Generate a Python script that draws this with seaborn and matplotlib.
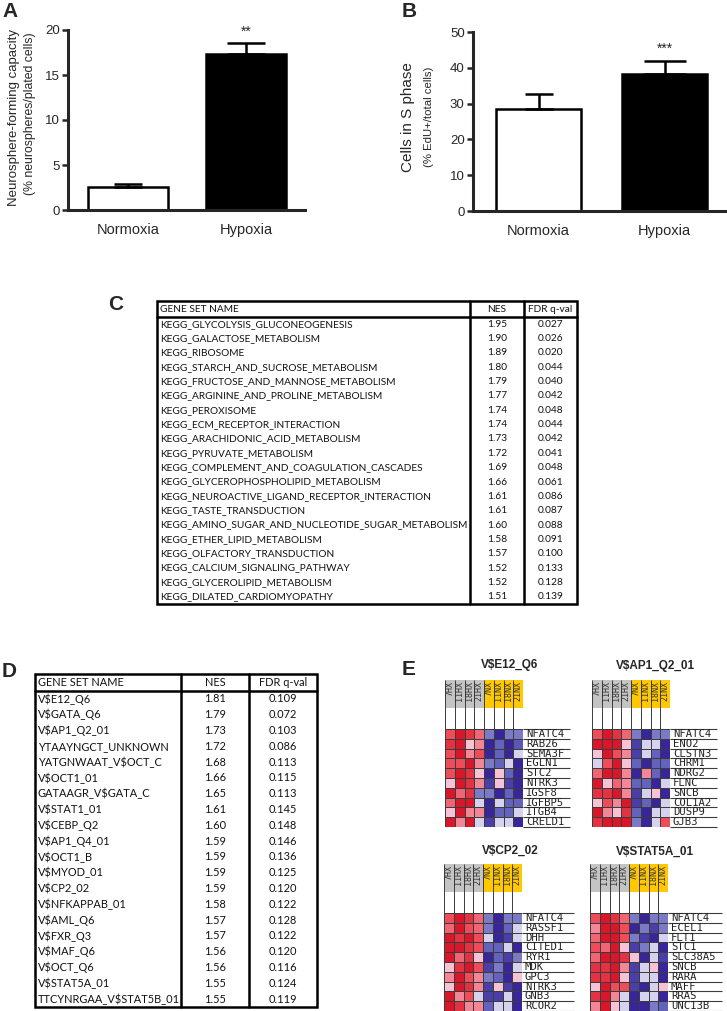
import numpy as np
import pandas as pd
import matplotlib
matplotlib.use("Agg")
import matplotlib.pyplot as plt
from matplotlib.patches import Rectangle
from matplotlib.colors import LinearSegmentedColormap
import seaborn as sns

# Panel A / B : bar data (mean and upper error)
conditions = ["Normoxia", "Hypoxia"]
sphere_mean = [2.6, 17.3]
sphere_err = [0.25, 1.3]
sphase_mean = [28.5, 38.3]
sphase_err = [4.3, 3.7]

# Panel C : KEGG gene sets
kegg_names = ["KEGG_GLYCOLYSIS_GLUCONEOGENESIS", "KEGG_GALACTOSE_METABOLISM", "KEGG_RIBOSOME",
              "KEGG_STARCH_AND_SUCROSE_METABOLISM", "KEGG_FRUCTOSE_AND_MANNOSE_METABOLISM",
              "KEGG_ARGININE_AND_PROLINE_METABOLISM", "KEGG_PEROXISOME", "KEGG_ECM_RECEPTOR_INTERACTION",
              "KEGG_ARACHIDONIC_ACID_METABOLISM", "KEGG_PYRUVATE_METABOLISM",
              "KEGG_COMPLEMENT_AND_COAGULATION_CASCADES", "KEGG_GLYCEROPHOSPHOLIPID_METABOLISM",
              "KEGG_NEUROACTIVE_LIGAND_RECEPTOR_INTERACTION", "KEGG_TASTE_TRANSDUCTION",
              "KEGG_AMINO_SUGAR_AND_NUCLEOTIDE_SUGAR_METABOLISM", "KEGG_ETHER_LIPID_METABOLISM",
              "KEGG_OLFACTORY_TRANSDUCTION", "KEGG_CALCIUM_SIGNALING_PATHWAY",
              "KEGG_GLYCEROLIPID_METABOLISM", "KEGG_DILATED_CARDIOMYOPATHY"]
kegg_nes = ["1.95", "1.90", "1.89", "1.80", "1.79", "1.77", "1.74", "1.74", "1.73", "1.72",
            "1.69", "1.66", "1.61", "1.61", "1.60", "1.58", "1.57", "1.52", "1.52", "1.51"]
kegg_fdr = ["0.027", "0.026", "0.020", "0.044", "0.040", "0.042", "0.048", "0.044", "0.042", "0.041",
            "0.048", "0.061", "0.086", "0.087", "0.088", "0.091", "0.100", "0.133", "0.128", "0.139"]

# Panel D : transcription factor motif gene sets
tf_names = ["V$E12_Q6", "V$GATA_Q6", "V$AP1_Q2_01", "YTAAYNGCT_UNKNOWN", "YATGNWAAT_V$OCT_C",
            "V$OCT1_01", "GATAAGR_V$GATA_C", "V$STAT1_01", "V$CEBP_Q2", "V$AP1_Q4_01",
            "V$OCT1_B", "V$MYOD_01", "V$CP2_02", "V$NFKAPPAB_01", "V$AML_Q6",
            "V$FXR_Q3", "V$MAF_Q6", "V$OCT_Q6", "V$STAT5A_01", "TTCYNRGAA_V$STAT5B_01"]
tf_nes = ["1.81", "1.79", "1.73", "1.72", "1.68", "1.66", "1.65", "1.61", "1.60", "1.59",
          "1.59", "1.59", "1.59", "1.58", "1.57", "1.57", "1.56", "1.56", "1.55", "1.55"]
tf_fdr = ["0.109", "0.072", "0.103", "0.086", "0.113", "0.115", "0.113", "0.145", "0.148", "0.146",
          "0.136", "0.125", "0.120", "0.122", "0.128", "0.122", "0.120", "0.116", "0.124", "0.119"]

# Panel E : leading edge heatmaps
samples = ["7HX", "11HX", "18HX", "21HX", "7NX", "11NX", "18NX", "21NX"]

e12_genes = ["NFATC4", "RAB26", "SEMA3F", "EGLN1", "STC2", "NTRK3", "IGSF8", "IGFBP5", "ITGB4", "CRELD1"]
e12_vals = [[2, 3, 2.5, 1.8, -1.8, -3, -1.8, -1.8],
            [2.5, 3, 1, 1.5, -3, -2, -3, -2.2],
            [2, 3, 1.5, 2, -3, -2, -3, -1],
            [2, 2, 3, 1.5, -1.8, -2, -1, -3],
            [2, 3, 2.5, 1, -3, 1, -2, -3],
            [1, 3, 2.5, 1.5, -2.6, 1, -2.6, -3],
            [3, 1.8, 2.5, -1.8, -1.8, -3, -2, -3],
            [1.8, 3, 3, -1, -3, -1, -2, -2],
            [1, 3, 1.5, 1.5, -3, -2, -2, -1],
            [3, 1.5, 3, -1, -2.6, -1, -1, -3]]

ap1_genes = ["NFATC4", "ENO2", "CLSTN3", "CHRM1", "NDRG2", "FLNC", "SNCB", "COL1A2", "DUSP9", "GJB3"]
ap1_vals = [[2, 3, 2.5, 1.8, -1.8, -3, -1.8, -1.8],
            [3, 3, 3, 1, -2.6, -1, -1, -3],
            [1, 3, 2, 1.5, -2.6, -1, -2, -3],
            [-1, 2, 3, 1, -2, -3, -2, -2],
            [1.8, 3, 3, 1.5, -3, 1.5, -2, -3],
            [3, 1, 1.8, 1.5, -2, -2, -3, -1],
            [2.5, 2.5, 3, 1.5, -2.6, -1, 1, -3],
            [1, 2, 1.5, 3, -2.6, -2, -3, -1],
            [3, 1.5, 1, 2.5, -2, -3, -1, -1],
            [2.5, 3, 3, 3, -1.8, -3, -1, 2]]

cp2_genes = ["NFATC4", "RASSF1", "DHH", "CITED1", "RYR1", "MDK", "GPC3", "NTRK3", "GNB3", "RCOR2"]
cp2_vals = [[2, 3, 2.5, 1.8, -1.8, -3, -1.8, -1.8],
            [1.8, 3, 2, 1.8, -1.8, -3, -2, -1],
            [3, 2.5, 3, 2, -1, -3, -2.6, -1],
            [3, 3, 2.5, 2, -2, -2, -1, -3],
            [3, 1.8, 2.5, 1, -3, -2, -2.6, -1.8],
            [1, 2.5, 3, 2, -2.6, -1.8, -3, -1],
            [1.5, 3, 2, 1.5, -1.8, -2, -3, 1],
            [1, 3, 2.5, 1.5, -2.6, 1, -2.6, -3],
            [3, 1.5, 2, -1, -2.6, -2.6, -1, -3],
            [3, 2.5, 1.5, 1.5, -2, -1, -1, -3]]

stat5a_genes = ["NFATC4", "ECEL1", "FLT1", "STC1", "SLC38A5", "SNCB", "RARA", "MAFF", "RRAS", "UNC13B"]
stat5a_vals = [[2, 3, 2.5, 1.8, -1.8, -3, -1.8, -1.8],
               [1.5, 3, 3, 2, -3, -1.8, -2.6, -1.8],
               [1.8, 3, 3, 2, -1.8, -2.6, -3, -1],
               [2, 1.8, 3, 1, -2.6, -1.8, -1, -3],
               [1.8, 3, 3, 2.5, 1, -3, -1, -2.6],
               [2.5, 2.5, 3, 1.5, -2.6, -1, 1, -3],
               [2.5, 2.5, 3, 1, -2.6, -1, -1, -3],
               [1, 3, 2, 2, -2.6, -3, -1, 1],
               [2.5, 3, 1.5, -1, -3, -1, -1, -3],
               [1.5, 3, 1, -1, -3, -3, -1.8, -2]]

sns.set_style("ticks")
plt.rcParams["font.family"] = ["Liberation Sans", "DejaVu Sans"]
plt.rcParams["text.parse_math"] = False

W, H = 727, 1011
fig = plt.figure(figsize=(W / 100, H / 100), dpi=100)


def px_rect(x0, y0, x1, y1):
    # pixel box (top-left origin) -> figure fraction rect
    return [x0 / W, 1 - y1 / H, (x1 - x0) / W, (y1 - y0) / H]


def fig_text(x, y, s, **kw):
    fig.text(x / W, 1 - y / H, s, **kw)


def bar_panel(rect, means, errs, caps, ymax, yticks, xlim, stars, star_y):
    ax = fig.add_axes(rect)
    df = pd.DataFrame({"condition": conditions, "value": means})
    sns.barplot(data=df, x="condition", y="value", hue="condition", palette=["white", "black"],
                width=0.68, edgecolor="black", linewidth=1.8, errorbar=None, legend=False, ax=ax)
    for i in range(len(means)):
        ax.errorbar(i, means[i], yerr=[[0], [errs[i]]], fmt="none", ecolor="black",
                    elinewidth=1.8, capsize=caps[i], capthick=1.8, zorder=5)
    ax.text(1, star_y, stars, ha="center", va="bottom", fontsize=10)
    ax.set_ylim(0, ymax)
    ax.set_xlim(*xlim)
    ax.set_yticks(yticks)
    ax.set_xlabel("")
    ax.set_ylabel("")
    sns.despine(ax=ax)
    for side in ["left", "bottom"]:
        ax.spines[side].set_linewidth(2.2)
    ax.tick_params(axis="y", width=1.8, length=4, labelsize=9.5, pad=2)
    ax.tick_params(axis="x", length=0, labelsize=10.5, pad=9)
    return ax


# Panel A
bar_panel(px_rect(68, 30, 305, 210), sphere_mean, sphere_err, [10, 14], 20,
          [0, 5, 10, 15, 20], (-0.508, 1.5), "**", 19.0)
fig_text(14, 118, "Neurosphere-forming capacity", rotation=90, ha="center", va="center", fontsize=9.5)
fig_text(30, 114, "(% neurospheres/plated cells)", rotation=90, ha="center", va="center", fontsize=8.8)

# Panel B
bar_panel(px_rect(473, 32, 727, 211), sphase_mean, sphase_err, [10, 15], 50,
          [0, 10, 20, 30, 40, 50], (-0.52, 1.496), "***", 43.3)
fig_text(408, 117, "Cells in S phase", rotation=90, ha="center", va="center", fontsize=11)
fig_text(429, 117, "(% EdU+/total cells)", rotation=90, ha="center", va="center", fontsize=8.2)


def draw_table(rect, w, h, col_x, header_h, names, nes, fdr, fs):
    ax = fig.add_axes(rect)
    ax.set_xlim(0, w)
    ax.set_ylim(h, 0)
    ax.axis("off")
    row_h = (h - header_h) / len(names)
    ax.add_patch(Rectangle((0, 0), w, h, fill=False, lw=1.8, edgecolor="black", clip_on=False))
    ax.plot([0, w], [header_h, header_h], color="black", lw=1.8, clip_on=False)
    for c in col_x:
        ax.plot([c, c], [0, h], color="black", lw=1.8, clip_on=False)
    font = dict(fontsize=fs, family="Lato", va="center", color="#111111")
    ax.text(3, header_h / 2 + 0.5, "GENE SET NAME", ha="left", **font)
    ax.text((col_x[0] + col_x[1]) / 2, header_h / 2 + 0.5, "NES", ha="center", **font)
    ax.text((col_x[1] + w) / 2, header_h / 2 + 0.5, "FDR q-val", ha="center", **font)
    for i in range(len(names)):
        y = header_h + (i + 0.5) * row_h
        ax.text(3, y, names[i], ha="left", **font)
        ax.text((col_x[0] + col_x[1]) / 2, y, nes[i], ha="center", **font)
        ax.text((col_x[1] + w) / 2, y, fdr[i], ha="center", **font)


# Panel C
draw_table(px_rect(157, 301, 577, 604), 420, 303, [313, 367], 16, kegg_names, kegg_nes, kegg_fdr, 7.3)
# Panel D
draw_table(px_rect(35, 674, 317, 1007), 282, 333, [146, 214], 17, tf_names, tf_nes, tf_fdr, 7.9)

# GSEA style heatmap colours
gsea_cmap = LinearSegmentedColormap.from_list(
    "gsea", [(0, "#38259a"), (1 / 6, "#6464bd"), (1 / 3, "#d5d2ee"), (0.5, "#ffffff"),
             (2 / 3, "#f6c3d6"), (5 / 6, "#ee4d5a"), (1, "#d8172b")])


def gene_heatmap(rect, title, title_xy, genes, values, line_end):
    ax = fig.add_axes(rect)
    df = pd.DataFrame(values, index=genes, columns=samples)
    sns.heatmap(df, ax=ax, cmap=gsea_cmap, vmin=-3, vmax=3, cbar=False, linewidths=0.7,
                linecolor="#3c3c3c", xticklabels=False, yticklabels=False)
    ax.set_xlim(0, 8)
    ax.set_ylim(10, -5)
    # sample header: grey for hypoxia, yellow for normoxia
    for j, s in enumerate(samples):
        color = "#c4c4c4" if "HX" in s else "#ffc800"
        ax.add_patch(Rectangle((j, -5), 1, 2.85, facecolor=color, lw=0))
        ax.text(j + 0.5, -4.92, s, rotation=90, ha="center", va="top", fontsize=6,
                family="DejaVu Sans Mono", color="#333333")
    ax.vlines(np.arange(9), -5, 0, colors="#3c3c3c", lw=0.7)
    ax.hlines(np.arange(11), 8, 8 + line_end, colors="#3c3c3c", lw=0.8, clip_on=False)
    for i, g in enumerate(genes):
        ax.text(8.3, i + 1.02, g, ha="left", va="bottom", fontsize=7.6,
                family="DejaVu Sans Mono", color="#222222", clip_on=False)
    ax.axis("off")
    fig_text(title_xy[0], title_xy[1], title, ha="center", va="center", fontsize=8.5, fontweight="bold")


# Panel E
gene_heatmap(px_rect(445, 680, 523, 827), "V$E12_Q6", (510, 665), e12_genes, e12_vals, 4.8)
gene_heatmap(px_rect(592, 680, 670, 827), "V$AP1_Q2_01", (655, 666), ap1_genes, ap1_vals, 4.8)
gene_heatmap(px_rect(444, 864, 522, 1011), "V$CP2_02", (510, 851), cp2_genes, cp2_vals, 5.3)
gene_heatmap(px_rect(590, 864, 668, 1011), "V$STAT5A_01", (655, 852), stat5a_genes, stat5a_vals, 5.5)

# panel letters
for letter, (x, y) in zip("ABCDE", [(2, 2), (402, 2), (108, 295), (2, 662), (402, 660)]):
    fig_text(x, y, letter, ha="left", va="top", fontsize=15, fontweight="bold")

fig.savefig("out.png", dpi=100)
